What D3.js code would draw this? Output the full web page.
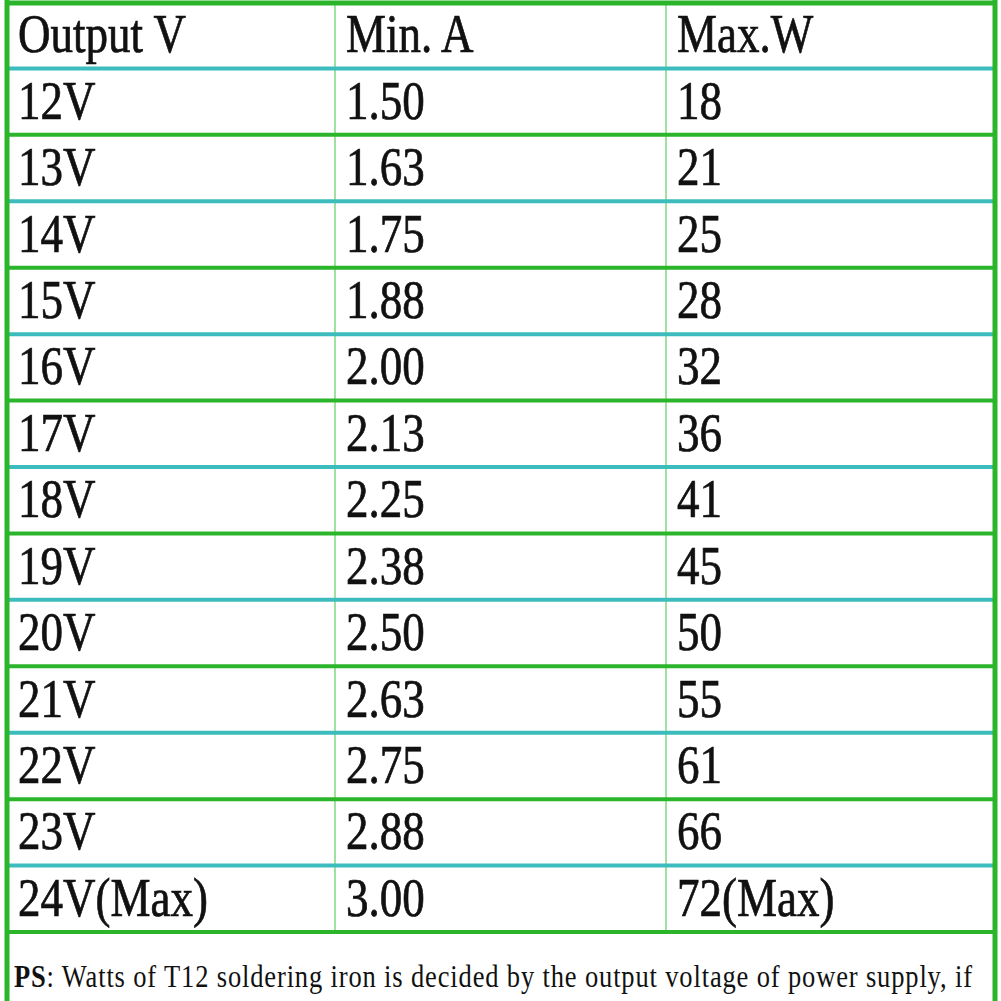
<!DOCTYPE html><html><head><meta charset="utf-8"><script src="https://d3js.org/d3.v7.min.js"></script>
<style>body{margin:0;background:#fff}text{font-family:"Liberation Serif","DejaVu Serif",serif;fill:#111}</style></head><body><svg id="c" width="1001" height="1001"></svg>
<script>
const headers=["Output V","Min. A","Max.W"];
const volts=["12V","13V","14V","15V","16V","17V","18V","19V","20V","21V","22V","23V","24V(Max)"];
const amps=["1.50","1.63","1.75","1.88","2.00","2.13","2.25","2.38","2.50","2.63","2.75","2.88","3.00"];
const watts=["18","21","25","28","32","36","41","45","50","55","61","66","72(Max)"];
const svg=d3.select("#c");
const rows=["h",...volts];
const y=d3.scaleBand().domain(rows).range([2,932]);
const x=d3.scaleOrdinal().domain([0,1,2]).range([7,335,666]);
const green="#2bb52b",teal="#3cbcbc",light="#7fd87f";
[335,666].forEach(v=>svg.append("line").attr("x1",v).attr("x2",v).attr("y1",2).attr("y2",932).attr("stroke",light).attr("stroke-width",1.5));
rows.forEach((r,i)=>{svg.append("line").attr("x1",7).attr("x2",995).attr("y1",y(r)+y.bandwidth()).attr("y2",y(r)+y.bandwidth()).attr("stroke",i%2===0?teal:green).attr("stroke-width",4);});
svg.append("line").attr("x1",5).attr("x2",997).attr("y1",3).attr("y2",3).attr("stroke",green).attr("stroke-width",5);
[7,995].forEach(v=>svg.append("line").attr("x1",v).attr("x2",v).attr("y1",0).attr("y2",1001).attr("stroke",green).attr("stroke-width",5));
const cells=[headers].concat(volts.map((v,i)=>[v,amps[i],watts[i]]));
cells.forEach((row,ri)=>row.forEach((t,ci)=>{
 svg.append("text").attr("transform",`translate(${x(ci)+11},${y(rows[ri])+y.bandwidth()/2+17}) scale(1,1.22)`).attr("font-size",45).attr("stroke","#111").attr("stroke-width",0.6).text(t);
}));
const ps=svg.append("text").attr("transform","translate(14,987) scale(1,1.2)").attr("font-size",26.5).attr("textLength",958);
ps.append("tspan").attr("font-weight","bold").text("PS");
ps.append("tspan").text(": Watts of T12 soldering iron is decided by the output voltage of power supply, if");
</script></body></html>
